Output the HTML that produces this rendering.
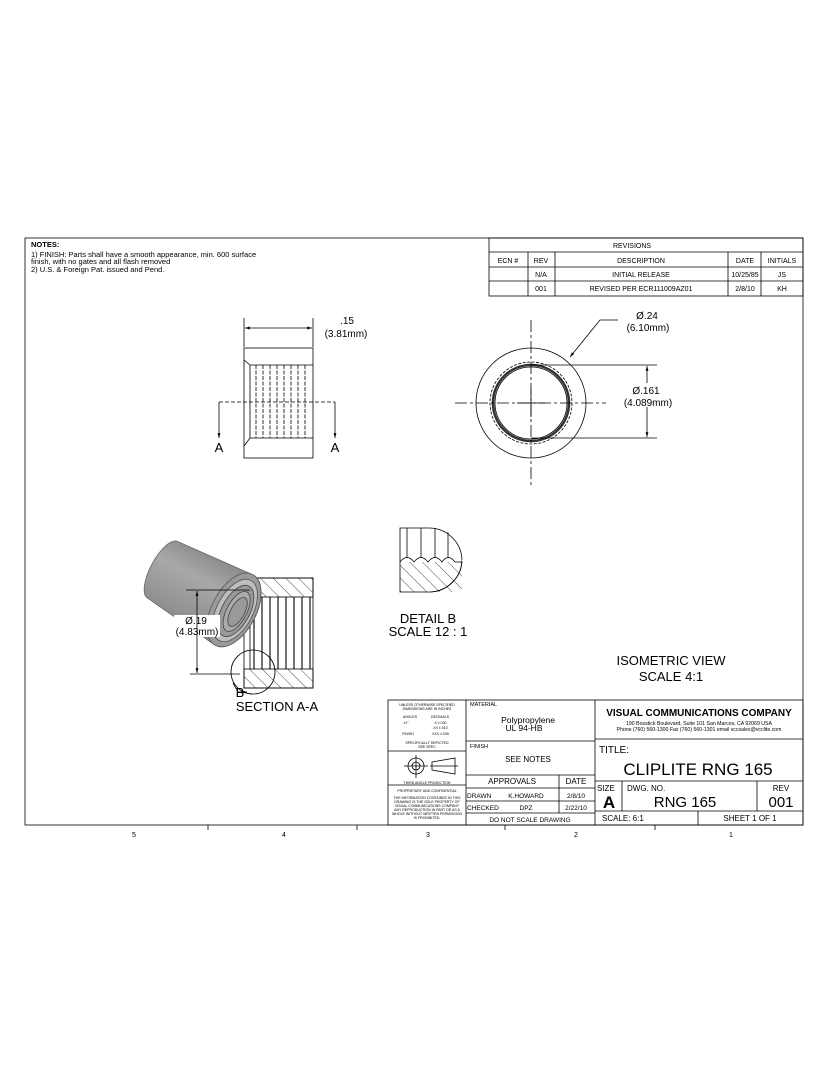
<!DOCTYPE html>
<html><head><meta charset="utf-8"><style>
html,body{margin:0;padding:0;background:#fff;}
svg{display:block;font-family:"Liberation Sans",sans-serif;}
</style></head><body>
<svg width="828" height="1068" viewBox="0 0 828 1068" xmlns="http://www.w3.org/2000/svg">
<defs>
<marker id="ar" viewBox="0 0 10 10" refX="10" refY="5" markerWidth="8" markerHeight="6" orient="auto-start-reverse"><path d="M0,2 L10,5 L0,8 z" fill="#000"/></marker>
<pattern id="hatch" patternUnits="userSpaceOnUse" width="9" height="9" patternTransform="rotate(-45)"><line x1="0" y1="0" x2="0" y2="9" stroke="#000" stroke-width="0.7"/></pattern>
<linearGradient id="gr" x1="0" y1="0" x2="0" y2="1"><stop offset="0" stop-color="#8a8a8a"/><stop offset="0.35" stop-color="#a8a8a8"/><stop offset="1" stop-color="#8a8a8a"/></linearGradient>
</defs>
<g fill="none" stroke="#000" stroke-width="0.8">
<rect x="25" y="238" width="778" height="587"/>
<rect x="489" y="238" width="314" height="58"/>
<line x1="489" y1="252" x2="803" y2="252"/>
<line x1="489" y1="267" x2="803" y2="267"/>
<line x1="489" y1="281" x2="803" y2="281"/>
<line x1="528" y1="252" x2="528" y2="296"/>
<line x1="555" y1="252" x2="555" y2="296"/>
<line x1="728" y1="252" x2="728" y2="296"/>
<line x1="761" y1="252" x2="761" y2="296"/>
<line x1="208" y1="825" x2="208" y2="830"/><line x1="357" y1="825" x2="357" y2="830"/>
<line x1="505" y1="825" x2="505" y2="830"/><line x1="655" y1="825" x2="655" y2="830"/>
<rect x="388" y="700" width="415" height="125"/>
<line x1="466" y1="700" x2="466" y2="825"/>
<line x1="595" y1="700" x2="595" y2="825"/>
<line x1="388" y1="751" x2="466" y2="751"/>
<line x1="388" y1="785" x2="466" y2="785"/>
<line x1="466" y1="741" x2="595" y2="741"/>
<line x1="466" y1="775" x2="595" y2="775"/>
<line x1="466" y1="788" x2="595" y2="788"/>
<line x1="466" y1="801" x2="595" y2="801"/>
<line x1="466" y1="813" x2="595" y2="813"/>
<line x1="559" y1="775" x2="559" y2="813"/>
<line x1="595" y1="739" x2="803" y2="739"/>
<line x1="595" y1="781" x2="803" y2="781"/>
<line x1="595" y1="811" x2="803" y2="811"/>
<line x1="622" y1="781" x2="622" y2="811"/>
<line x1="757" y1="781" x2="757" y2="811"/>
<line x1="698" y1="811" x2="698" y2="825"/>
<circle cx="416" cy="766" r="8"/><circle cx="416" cy="766" r="4"/>
<line x1="404" y1="766" x2="428" y2="766"/><line x1="416" y1="755" x2="416" y2="778"/>
<path d="M432,762 L455,758 L455,774 L432,770 z"/><line x1="430" y1="766" x2="458" y2="766"/>

<rect x="244" y="348" width="69" height="110"/>
<line x1="244" y1="318" x2="244" y2="347"/><line x1="313" y1="318" x2="313" y2="347"/>
<line x1="245" y1="328" x2="312" y2="328" marker-start="url(#ar)" marker-end="url(#ar)"/>
<path d="M244,360 L250,365 L313,365 M244,446 L250,438 L313,438 M250,365 L250,438"/>
<g stroke-dasharray="4,1.5">
<line x1="256" y1="365" x2="256" y2="438"/><line x1="263" y1="365" x2="263" y2="438"/>
<line x1="270" y1="365" x2="270" y2="438"/><line x1="277" y1="365" x2="277" y2="438"/>
<line x1="284" y1="365" x2="284" y2="438"/><line x1="291" y1="365" x2="291" y2="438"/>
<line x1="298" y1="365" x2="298" y2="438"/><line x1="305" y1="365" x2="305" y2="438"/>
<path d="M219,402 L335,402" stroke-dasharray="4,2"/>
</g>
<line x1="219" y1="402" x2="219" y2="438" marker-end="url(#ar)"/>
<line x1="335" y1="402" x2="335" y2="438" marker-end="url(#ar)"/>

<circle cx="531" cy="403" r="55"/>
<circle cx="531" cy="403" r="41" stroke-dasharray="3,1.5"/>
<circle cx="531" cy="403" r="38" stroke-width="2.6" stroke="#333"/>
<circle cx="531" cy="403" r="36"/>
<path d="M455,403 H606" stroke-dasharray="12,3,3,3"/>
<path d="M531,320 V485" stroke-dasharray="12,3,3,3"/>
<line x1="517" y1="403" x2="545" y2="403"/>
<line x1="531" y1="389" x2="531" y2="417"/>
<line x1="531" y1="365" x2="657" y2="365"/>
<line x1="531" y1="438" x2="657" y2="438"/>
<line x1="647" y1="366" x2="647" y2="437" marker-start="url(#ar)" marker-end="url(#ar)"/>
<polyline points="618,320 600,320 570,357" marker-end="url(#ar)"/>

<rect x="244" y="578" width="69" height="110"/>
<rect x="244" y="578" width="69" height="19" fill="url(#hatch)"/>
<rect x="244" y="669" width="69" height="19" fill="url(#hatch)"/>
<g stroke-width="1.1">
<line x1="254" y1="597" x2="254" y2="669"/><line x1="262" y1="597" x2="262" y2="669"/>
<line x1="270" y1="597" x2="270" y2="669"/><line x1="278" y1="597" x2="278" y2="669"/>
<line x1="286" y1="597" x2="286" y2="669"/><line x1="294" y1="597" x2="294" y2="669"/>
<line x1="302" y1="597" x2="302" y2="669"/><line x1="310" y1="597" x2="310" y2="669"/>
</g>
<line x1="250" y1="597" x2="250" y2="669"/>
<!-- iso -->
<g transform="translate(234,610) rotate(28)">
<path d="M-82,-34 L0,-40 A22,40 0 0 1 0,40 L-82,30 A12,32 0 0 1 -82,-34 z" fill="url(#gr)" stroke="#666"/>
<ellipse cx="0" cy="0" rx="22" ry="40" fill="#9a9a9a" stroke="#555"/>
<ellipse cx="1" cy="0" rx="18" ry="34" fill="#bdbdbd" stroke="#555"/>
<ellipse cx="2" cy="0" rx="14" ry="28" fill="#999" stroke="#444"/>
<ellipse cx="3" cy="0" rx="10" ry="22" fill="#aaa" stroke="#444"/>
<ellipse cx="4" cy="0" rx="7" ry="16" fill="#999" stroke="#444"/>
</g>
<line x1="186" y1="590" x2="250" y2="590"/>
<line x1="190" y1="674" x2="240" y2="674"/>
<line x1="197" y1="591" x2="197" y2="673" marker-start="url(#ar)" marker-end="url(#ar)"/>
<circle cx="253" cy="672" r="22" fill="none"/>
<path d="M233,683 L238,692 L247,692" marker-end="url(#ar)"/>

<path d="M400,528 L430,528 A33,33 0 0 1 462,561 A33,33 0 0 1 430,592 L400,592 z"/>
<path d="M400,562 Q407,553 414,562 Q421,553 428,562 Q435,553 442,562 Q448,553 455,562 L462,562"/>
<rect x="400" y="562" width="62" height="30" fill="url(#hatch)" stroke="none"/>
<line x1="407" y1="528" x2="407" y2="558"/><line x1="421" y1="528" x2="421" y2="558"/>
<line x1="435" y1="528" x2="435" y2="558"/><line x1="448" y1="532" x2="448" y2="558"/>
</g>
<rect x="462" y="560" width="10" height="35" fill="#fff"/>
<path d="M430,592 A33,33 0 0 0 462,561" fill="none" stroke="#000" stroke-width="0.8"/>

<g font-size="8" fill="#000">
<text x="31" y="247" font-weight="bold" font-size="7.5">NOTES:</text>
<text x="31" y="257" font-size="7.5">1) FINISH: Parts shall have a smooth appearance, min. 600 surface</text>
<text x="31" y="264" font-size="7.5">finish, with no gates and all flash removed</text>
<text x="31" y="272" font-size="7.5">2) U.S. &amp; Foreign Pat. issued and Pend.</text>
<g font-size="7" text-anchor="middle">
<text x="632" y="248">REVISIONS</text>
<text x="508" y="263">ECN #</text><text x="541" y="263">REV</text>
<text x="641" y="263">DESCRIPTION</text><text x="745" y="263">DATE</text><text x="782" y="263">INITIALS</text>
<text x="541" y="277">N/A</text><text x="641" y="277">INITIAL RELEASE</text><text x="745" y="277">10/25/85</text><text x="782" y="277">JS</text>
<text x="541" y="291">001</text><text x="641" y="291">REVISED PER ECR111009AZ01</text><text x="745" y="291">2/8/10</text><text x="782" y="291">KH</text>
</g>
<g font-size="10" text-anchor="middle">
<text x="347" y="324">.15</text><text x="346" y="337">(3.81mm)</text>
<text x="647" y="319">Ø.24</text><text x="648" y="331">(6.10mm)</text>
<rect x="622" y="383" width="52" height="24" fill="#fff"/>
<text x="646" y="394">Ø.161</text><text x="648" y="406">(4.089mm)</text>
<rect x="174" y="615" width="46" height="22" fill="#fff"/>
<text x="196" y="624">Ø.19</text><text x="197" y="635">(4.83mm)</text>
</g>
<line x1="197" y1="615" x2="197" y2="637" stroke="#000" stroke-width="0.8"/>
<g font-size="13" text-anchor="middle">
<text x="219" y="452">A</text><text x="335" y="452">A</text>
<text x="240" y="697">B</text>
<text x="277" y="711">SECTION A-A</text>
<text x="428" y="623">DETAIL B</text><text x="428" y="636">SCALE 12 : 1</text>
<text x="671" y="665">ISOMETRIC VIEW</text><text x="671" y="681">SCALE 4:1</text>
</g>
<g font-size="3.5" text-anchor="middle">
<text x="427" y="706">UNLESS OTHERWISE SPECIFIED</text><text x="427" y="710">DIMENSIONS ARE IN INCHES</text>
<text x="410" y="718">ANGLES</text><text x="440" y="718">DECIMALS</text>
<text x="406" y="724">±1°</text><text x="440" y="724">.X ±.030</text><text x="440" y="729">.XX ±.010</text>
<text x="408" y="735">FINISH</text><text x="440" y="735">.XXX ±.005</text>
<text x="427" y="744">SPECIFICALLY DEPICTED</text><text x="427" y="748">SEE SPEC</text>
<text x="427" y="784">THIRD ANGLE PROJECTION</text>
<text x="427" y="792">PROPRIETARY AND CONFIDENTIAL</text>
<text x="427" y="799">THE INFORMATION CONTAINED IN THIS</text><text x="427" y="803">DRAWING IS THE SOLE PROPERTY OF</text>
<text x="427" y="807">VISUAL COMMUNICATIONS COMPANY</text><text x="427" y="811">ANY REPRODUCTION IN PART OR AS A</text>
<text x="427" y="815">WHOLE WITHOUT WRITTEN PERMISSION</text><text x="427" y="819">IS PROHIBITED.</text>
</g>
<text x="470" y="706" font-size="5.5">MATERIAL</text>
<text x="528" y="723" font-size="8.5" text-anchor="middle">Polypropylene</text>
<text x="524" y="731" font-size="8.5" text-anchor="middle">UL 94-HB</text>
<text x="470" y="748" font-size="5.5">FINISH</text>
<text x="528" y="762" font-size="8" text-anchor="middle">SEE NOTES</text>
<text x="512" y="784" font-size="8" text-anchor="middle">APPROVALS</text>
<text x="576" y="784" font-size="8" text-anchor="middle">DATE</text>
<text x="467" y="798" font-size="6.5">DRAWN</text><text x="526" y="798" font-size="6.5" text-anchor="middle">K.HOWARD</text><text x="576" y="798" font-size="6.5" text-anchor="middle">2/8/10</text>
<text x="467" y="810" font-size="6.5">CHECKED</text><text x="526" y="810" font-size="6.5" text-anchor="middle">DPZ</text><text x="576" y="810" font-size="6.5" text-anchor="middle">2/22/10</text>
<text x="530" y="822" font-size="6.5" text-anchor="middle">DO NOT SCALE DRAWING</text>
<text x="699" y="716" font-size="10" font-weight="bold" text-anchor="middle">VISUAL COMMUNICATIONS COMPANY</text>
<text x="699" y="725" font-size="5.2" text-anchor="middle">190 Bosstick Boulevard, Suite 101 San Marcos, CA 92069 USA</text>
<text x="699" y="731" font-size="5.2" text-anchor="middle">Phone (760) 560-1300 Fax (760) 560-1301 email vccsales@vcclite.com</text>
<text x="599" y="753" font-size="10">TITLE:</text>
<text x="698" y="775" font-size="17" text-anchor="middle">CLIPLITE RNG 165</text>
<text x="597" y="791" font-size="8">SIZE</text>
<text x="609" y="808" font-size="17" font-weight="bold" text-anchor="middle">A</text>
<text x="627" y="791" font-size="8">DWG. NO.</text>
<text x="685" y="807" font-size="15" text-anchor="middle">RNG 165</text>
<text x="781" y="791" font-size="8" text-anchor="middle">REV</text>
<text x="781" y="807" font-size="15" text-anchor="middle">001</text>
<text x="602" y="821" font-size="8">SCALE: 6:1</text>
<text x="750" y="821" font-size="8" text-anchor="middle">SHEET 1 OF 1</text>
<g font-size="7" text-anchor="middle">
<text x="134" y="837">5</text><text x="284" y="837">4</text><text x="428" y="837">3</text><text x="576" y="837">2</text><text x="731" y="837">1</text>
</g>
</g>
</svg>
</body></html>
